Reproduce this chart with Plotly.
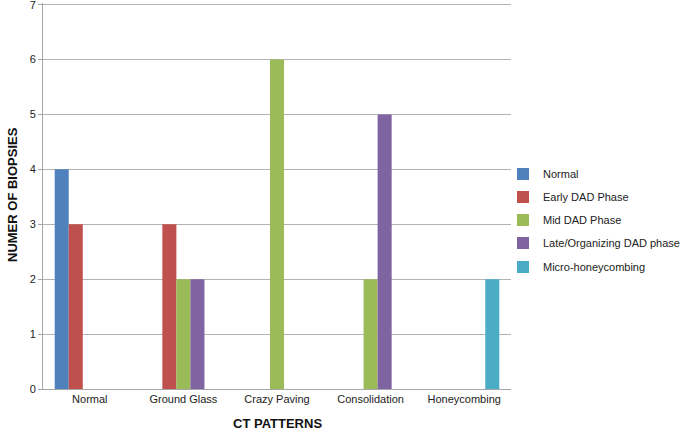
import plotly.graph_objects as go

categories = ["Normal", "Ground Glass", "Crazy Paving", "Consolidation", "Honeycombing"]
series_names = ["Normal", "Early DAD Phase", "Mid DAD Phase", "Late/Organizing DAD phase", "Micro-honeycombing"]
normal_vals = [4, 0, 0, 0, 0]
early_vals = [3, 3, 0, 0, 0]
mid_vals = [0, 2, 6, 2, 0]
late_vals = [0, 2, 0, 5, 0]
micro_vals = [0, 0, 0, 0, 2]
colors = ["#4F81BD", "#C0504D", "#9BBB59", "#8064A2", "#4BACC6"]
y_ticks = [0, 1, 2, 3, 4, 5, 6, 7]

L, R, T, B = 43, 174, 3, 43
W, H = 685, 432
pw = W - L - R
ph = H - T - B
y_top = 7.03

def py(pix):
    """paper y for a pixel row"""
    return (H - B - pix) / ph

legend_rows_y = [py(174), py(197), py(220), py(243), py(267)]

fig = go.Figure()
legend_ids = ["legend", "legend2", "legend3", "legend4", "legend5"]
all_vals = [normal_vals, early_vals, mid_vals, late_vals, micro_vals]
for name, vals, col, lid in zip(series_names, all_vals, colors, legend_ids):
    fig.add_trace(go.Bar(x=categories, y=vals, name=name, legend=lid, showlegend=True,
                         marker=dict(color=col, line=dict(width=0))))

legend_x = (503 - L) / pw
legend_common = dict(x=legend_x, xanchor="left", yanchor="middle",
                     font=dict(size=11, color="#222222"), bgcolor="rgba(0,0,0,0)",
                     itemwidth=30)

layout_legends = {}
for lid, ly in zip(legend_ids, legend_rows_y):
    layout_legends[lid] = dict(legend_common, y=ly)

fig.update_layout(
    width=W, height=H,
    showlegend=True,
    margin=dict(l=L, r=R, t=T, b=B, autoexpand=False),
    paper_bgcolor="white", plot_bgcolor="white",
    barmode="group", bargap=0.25, bargroupgap=0,
    font=dict(family="Liberation Sans, Arial, sans-serif", size=11, color="#222222"),
    xaxis=dict(showgrid=False, showline=True, linecolor="#A6A6A6", linewidth=1,
               ticks="", tickfont=dict(size=11), automargin=False),
    yaxis=dict(range=[0, y_top], tickvals=y_ticks, showgrid=True, gridcolor="#B3B3B3", gridwidth=1,
               showline=True, linecolor="#A6A6A6", linewidth=1, ticks="outside", ticklen=4,
               tickcolor="#A6A6A6", tickfont=dict(size=11), zeroline=False, automargin=False,
               ticklabeloverflow="allow"),
    annotations=[
        dict(text="<b>CT PATTERNS</b>", xref="paper", yref="paper",
             x=(277 - L) / pw, y=py(423), xanchor="center", yanchor="middle",
             showarrow=False, font=dict(size=13, color="#111111")),
        dict(text="<b>NUMER OF BIOPSIES</b>", xref="paper", yref="paper",
             x=(12 - L) / pw, y=py(195), xanchor="center", yanchor="middle",
             textangle=-90, showarrow=False, font=dict(size=13, color="#111111")),
    ],
    **layout_legends,
)

fig.write_html("out.html", config={"displayModeBar": False},
               post_script="document.body.style.margin='0';document.body.style.padding='0';")
